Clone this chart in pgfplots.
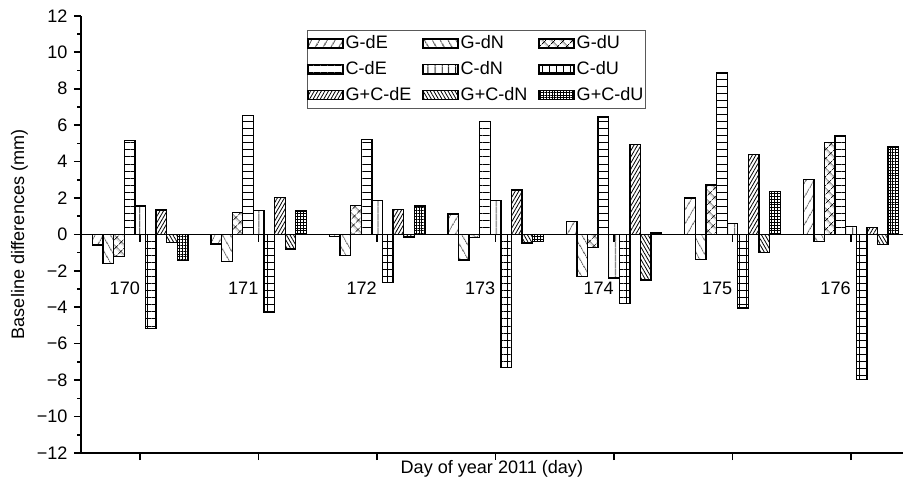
\documentclass[border=0pt]{standalone}
\usepackage{fontspec}
\setmainfont{Liberation Sans}
\usepackage{pgfplots}
\usepackage{pgfplotstable}
\pgfplotsset{compat=1.18}
\usetikzlibrary{patterns.meta}

\pgfplotstableread{
day GdE GdN GdU CdE CdN CdU GCdE GCdN GCdU
170 -0.58 -1.58 -1.22 5.15 1.56 -5.15 1.34 -0.45 -1.44
171 -0.52 -1.49 1.20 6.52 1.32 -4.30 2.03 -0.80 1.28
172 -0.10 -1.15 1.60 5.20 1.88 -2.64 1.37 -0.15 1.56
173 1.12 -1.40 -0.17 6.20 1.88 -7.30 2.44 -0.48 -0.40
174 0.72 -2.30 -0.72 6.44 -2.40 -3.80 4.95 -2.50 0.08
175 2.00 -1.38 2.72 8.86 0.60 -4.05 4.40 -1.00 2.35
176 3.00 -0.40 5.04 5.40 0.43 -7.95 0.39 -0.55 4.80
}\datatable

\pgfplotsset{
  every axis plot post/.append style={
    legend image code/.code={\draw[##1, line width=0.8pt] (0pt,-2.5pt) rectangle (19.5pt,2.5pt);}
  }
}

\begin{document}
\begin{tikzpicture}
\useasboundingbox (-44.85pt,-19.4pt) rectangle (455.15pt,250.8pt);
\begin{axis}[
  scale only axis, width=455pt, height=242pt,
  xmin=169.5, xmax=176.437, ymin=-12, ymax=12,
  axis x line*=bottom, axis y line*=left,
  axis line style={line width=1pt},
  xtick={170,...,176}, xticklabels={},
  ytick={-12,-10,...,12},
  yticklabels={−12,−10,−8,−6,−4,−2,0,2,4,6,8,10,12},
  minor ytick={-11,-9,...,11},
  xtick align=inside, ytick align=outside,
  major tick length=4pt, minor tick length=2.2pt,
  tick style={line width=0.9pt, black},
  ylabel={Baseline differences (mm)},
  xlabel={Day of year 2011 (day)},
  xlabel style={yshift=10pt},
  ylabel style={yshift=-2pt},
  label style={font=\fontsize{10}{12}\selectfont},
  tick label style={font=\fontsize{10}{12}\selectfont},
  ybar, bar width=0.0895,
  every axis plot/.append style={draw=black, line width=0.75pt},
  legend columns=3,
  legend cell align=left,
  legend style={at={(0.2746,0.968)}, anchor=north west, draw=black!65, line width=0.6pt,
    font=\fontsize{10}{11}\selectfont, inner sep=0pt, row sep=0pt,
    nodes={inner xsep=1pt, inner ysep=2.8pt},
    /tikz/every even column/.append style={column sep=5pt}},
]
\addplot[bar shift=-0.358, pattern={Lines[angle=60,distance=4pt,line width=0.5pt]}] table[x=day,y=GdE] {\datatable};
\addplot[bar shift=-0.2685, pattern={Lines[angle=-60,distance=4pt,line width=0.5pt]}] table[x=day,y=GdN] {\datatable};
\addplot[bar shift=-0.179, pattern={Hatch[angle=45,distance=4pt,line width=0.5pt]}] table[x=day,y=GdU] {\datatable};
\addplot[bar shift=-0.0895, pattern={Lines[angle=0,distance=3.9pt,line width=0.5pt]}] table[x=day,y=CdE] {\datatable};
\addplot[bar shift=0, pattern={Lines[angle=90,distance=4pt,line width=0.5pt]}] table[x=day,y=CdN] {\datatable};
\addplot[bar shift=0.0895, pattern={Hatch[angle=0,distance=3.9pt,line width=0.5pt]}] table[x=day,y=CdU] {\datatable};
\addplot[bar shift=0.179, pattern={Lines[angle=60,distance=1.7pt,line width=0.45pt]}] table[x=day,y=GCdE] {\datatable};
\addplot[bar shift=0.2685, pattern={Lines[angle=-60,distance=1.7pt,line width=0.45pt]}] table[x=day,y=GCdN] {\datatable};
\addplot[bar shift=0.358, pattern={Hatch[angle=0,distance=1.6pt,line width=0.45pt]}] table[x=day,y=GCdU] {\datatable};
\legend{G-dE,G-dN,G-dU,C-dE,C-dN,C-dU,G+C-dE,G+C-dN,G+C-dU}
\end{axis}
\begin{axis}[
  scale only axis, width=455pt, height=242pt,
  xmin=169.5, xmax=176.437, ymin=-12, ymax=12,
  axis x line=middle, axis y line=none,
  x axis line style={-, line width=0.9pt},
  xtick={170,...,176}, xticklabels={170,171,172,173,174,175,176},
  xtick align=outside, major tick length=4pt,
  ytick=\empty,
  tick style={line width=0.9pt, black},
  xticklabel style={anchor=north east, inner sep=0pt, yshift=-22pt, font=\fontsize{10}{12}\selectfont},
]
\end{axis}
\end{tikzpicture}
\end{document}
